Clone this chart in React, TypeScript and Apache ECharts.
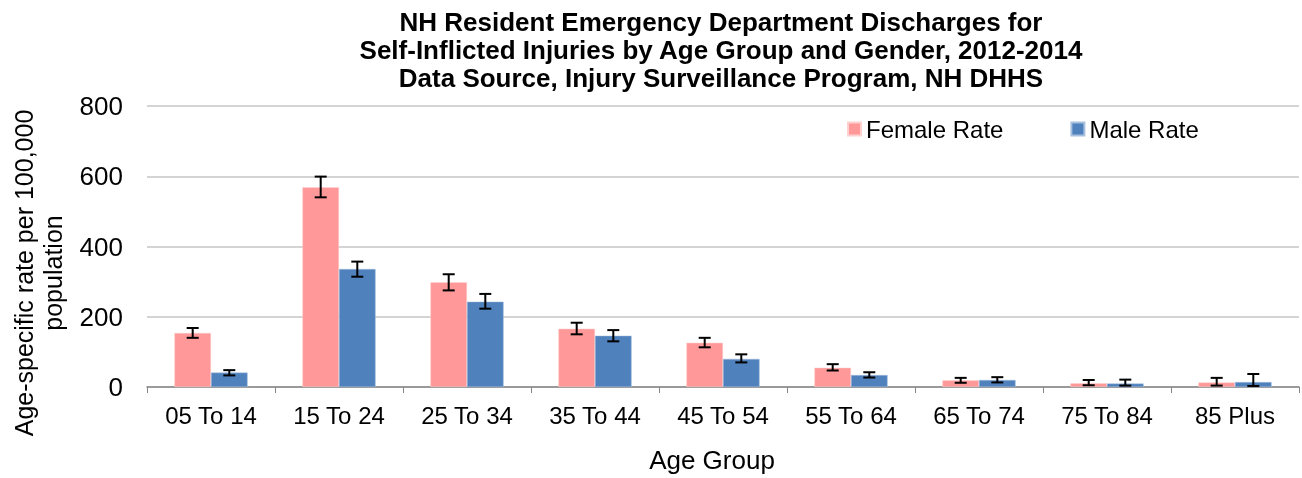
import React, { useEffect, useRef } from "react";
import * as echarts from "echarts";

const categories = ["05 To 14", "15 To 24", "25 To 34", "35 To 44", "45 To 54", "55 To 64", "65 To 74", "75 To 84", "85 Plus"];
const femaleRate = [154, 569, 298, 166, 126, 55, 19, 11, 13];
const maleRate = [41, 336, 243, 146, 80, 34, 20, 10, 14];
const femaleLow = [140, 540, 275, 150, 113, 47, 12, 5, 4];
const femaleHigh = [168, 599, 321, 183, 140, 65, 26, 20, 26];
const maleLow = [33, 314, 223, 130, 70, 27, 13, 4, 3];
const maleHigh = [48, 357, 265, 162, 93, 42, 28, 21, 37];
const yTicks = [0, 200, 400, 600, 800];
const yTitleLines = ["Age-specific rate per 100,000", "population"];

const FONT = "Liberation Sans, Arial, sans-serif";

function errorSeries(low: number[], high: number[], sign: number) {
  return {
    type: "custom",
    silent: true,
    z: 10,
    data: low.map((l, i) => [i, l, high[i]]),
    renderItem: (params: any, api: any) => {
      const idx = api.value(0);
      const band = api.size([1, 0])[0];
      const off = sign * band * 0.143;
      const pLow = api.coord([idx, api.value(1)]);
      const pHigh = api.coord([idx, api.value(2)]);
      const x = pLow[0] + off;
      const cap = 6;
      const style = { stroke: "#000", lineWidth: 2 };
      return {
        type: "group",
        children: [
          { type: "line", shape: { x1: x, y1: pLow[1], x2: x, y2: pHigh[1] }, style },
          { type: "line", shape: { x1: x - cap, y1: pLow[1], x2: x + cap, y2: pLow[1] }, style },
          { type: "line", shape: { x1: x - cap, y1: pHigh[1], x2: x + cap, y2: pHigh[1] }, style },
        ],
      };
    },
  };
}

export default function App() {
  const ref = useRef<HTMLDivElement>(null);
  useEffect(() => {
    if (!ref.current) return;
    const chart = echarts.init(ref.current, null, { renderer: "svg" });
    chart.setOption({
      animation: false,
      textStyle: { fontFamily: FONT },
      title: {
        text: "NH Resident Emergency Department Discharges for\nSelf-Inflicted Injuries by Age Group and Gender, 2012-2014\nData Source, Injury Surveillance Program, NH DHHS",
        left: 716,
        top: 3,
        textAlign: "center",
        textStyle: { fontFamily: FONT, fontSize: 26, fontWeight: "bold", color: "#000", lineHeight: 28 },
      },
      legend: {
        data: ["Female Rate", "Male Rate"],
        left: 847,
        top: 117,
        padding: 0,
        icon: "rect",
        itemWidth: 13,
        itemHeight: 13,
        itemGap: 67,
        textStyle: { fontFamily: FONT, fontSize: 24, color: "#000" },
      },
      graphic: yTitleLines.map((t, i) => ({
        type: "text",
        x: 24 + i * 29,
        y: 273,
        rotation: Math.PI / 2,
        style: {
          text: t,
          fontFamily: FONT,
          fontSize: 25,
          fill: "#000",
          textAlign: "center",
          textVerticalAlign: "middle",
        },
      })),
      grid: { left: 147, right: 3, top: 106, bottom: 90 },
      xAxis: {
        type: "category",
        data: categories,
        name: "Age Group",
        nameLocation: "middle",
        nameGap: 60,
        nameTextStyle: { fontFamily: FONT, fontSize: 26, color: "#000", padding: [0, 22, 0, 0] },
        axisLine: { lineStyle: { color: "#868686", width: 1.5 } },
        axisTick: { show: true, length: 6, lineStyle: { color: "#868686" } },
        axisLabel: { fontFamily: FONT, fontSize: 24, color: "#000", margin: 16 },
      },
      yAxis: {
        type: "value",
        min: 0,
        max: 800,
        interval: 200,
        axisLine: { show: false },
        axisTick: { show: false },
        axisLabel: {
          fontFamily: FONT,
          fontSize: 26,
          color: "#000",
          margin: 24,
          formatter: (v: number) => (yTicks.includes(v) ? String(v) : ""),
        },
        splitLine: { lineStyle: { color: "#c6c6c6", width: 1.5 } },
      },
      series: [
        {
          name: "Female Rate",
          type: "bar",
          data: femaleRate,
          barWidth: "28.6%",
          barGap: "0%",
          itemStyle: { color: "#FF9999", borderColor: "#ffd0d0", borderWidth: 0.5 },
        },
        {
          name: "Male Rate",
          type: "bar",
          data: maleRate,
          barWidth: "28.6%",
          barGap: "0%",
          itemStyle: { color: "#4F81BD", borderColor: "#a8c0e0", borderWidth: 0.5 },
        },
        errorSeries(femaleLow, femaleHigh, -1),
        errorSeries(maleLow, maleHigh, 1),
      ],
    });
    return () => chart.dispose();
  }, []);
  return <div ref={ref} style={{ position: "fixed", left: 0, top: 0, width: 1302, height: 478 }} />;
}
